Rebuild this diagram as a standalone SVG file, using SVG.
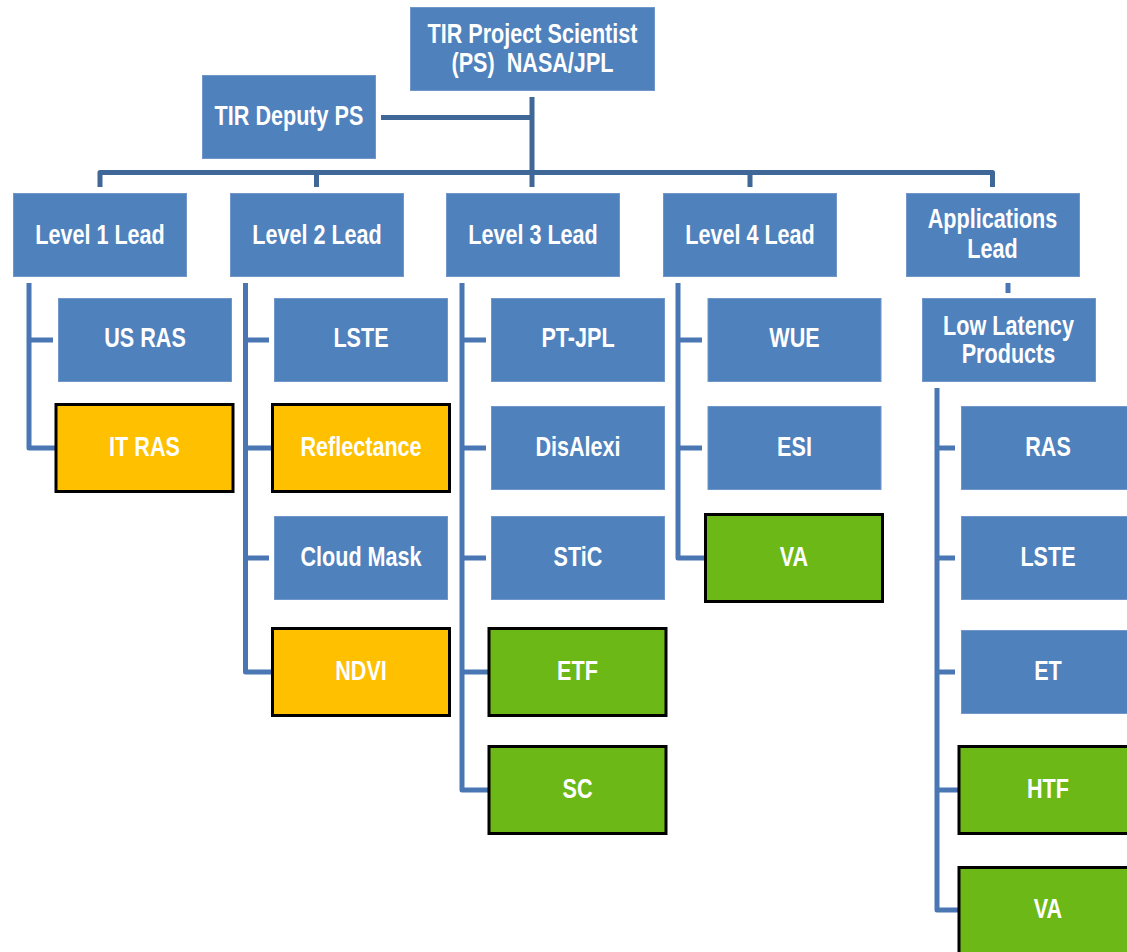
<svg xmlns="http://www.w3.org/2000/svg" width="1127" height="952" viewBox="0 0 1127 952">
<style>
.b{fill:#4F81BD;stroke:#7196C9;stroke-width:1}
.y{fill:#FFC000;stroke:#000;stroke-width:3}
.g{fill:#6CB816;stroke:#000;stroke-width:3}
text{font-family:"Liberation Sans",Arial,sans-serif;font-weight:bold;font-size:27px;fill:#fff;text-anchor:middle}
.top{fill:none;stroke:#3F6797;stroke-width:5;stroke-linejoin:round}
.sub{fill:none;stroke:#4A77B3;stroke-width:5;stroke-linejoin:round}
</style>
<rect width="1127" height="952" fill="#fff"/>
<g id="connectors">
<path class="top" d="M381,117.5 H532 M532,97 V187 M100,187 V172.5 H992.5 V187 M316.5,172.5 V187 M750,172.5 V187"/>
<path class="sub" d="M29,283 V448 H55 M29,340 H53"/>
<path class="sub" d="M245.5,283 V672 H271 M245.5,340 H269 M245.5,448 H271 M245.5,558 H269"/>
<path class="sub" d="M462,283 V790 H488 M462,340 H486 M462,448 H486 M462,558 H486 M462,672 H488"/>
<path class="sub" d="M678,283 V558 H705 M678,340 H702 M678,448 H702"/>
<path class="sub" d="M1008,283 V293 M937,388 V910 H958 M937,448 H955 M937,558 H955 M937,672 H955 M937,790 H958"/>
</g>
<g id="ps"><rect class="b" x="410.5" y="7.5" width="244" height="83"/><text transform="translate(532.5,43) scale(0.8,1)">TIR Project Scientist</text><text transform="translate(532.5,72) scale(0.8,1)" style="white-space:pre">(PS)  NASA/JPL</text></g>
<g id="deputy"><rect class="b" x="202.5" y="75.5" width="173" height="83"/><text transform="translate(289,125) scale(0.8,1)">TIR Deputy PS</text></g>
<g id="level1"><rect class="b" x="13.5" y="193.5" width="173" height="83"/><text transform="translate(100,244) scale(0.8,1)">Level 1 Lead</text></g>
<g id="level2"><rect class="b" x="230.5" y="193.5" width="173" height="83"/><text transform="translate(317,244) scale(0.8,1)">Level 2 Lead</text></g>
<g id="level3"><rect class="b" x="446.5" y="193.5" width="173" height="83"/><text transform="translate(533,244) scale(0.8,1)">Level 3 Lead</text></g>
<g id="level4"><rect class="b" x="663.5" y="193.5" width="173" height="83"/><text transform="translate(750,244) scale(0.8,1)">Level 4 Lead</text></g>
<g id="apps"><rect class="b" x="906.5" y="193.5" width="173" height="83"/><text transform="translate(992.5,228) scale(0.8,1)">Applications</text><text transform="translate(992.5,258) scale(0.8,1)">Lead</text></g>
<g id="usras"><rect class="b" x="58.5" y="298.5" width="173" height="83"/><text transform="translate(145,347) scale(0.8,1)">US RAS</text></g>
<g id="itras"><rect class="y" x="56" y="404.5" width="177" height="87"/><text transform="translate(144.5,456) scale(0.8,1)">IT RAS</text></g>
<g id="lste2"><rect class="b" x="274.5" y="298.5" width="173" height="83"/><text transform="translate(361,347) scale(0.8,1)">LSTE</text></g>
<g id="refl"><rect class="y" x="272.5" y="404.5" width="177" height="87"/><text transform="translate(361,456) scale(0.8,1)">Reflectance</text></g>
<g id="cloud"><rect class="b" x="274.5" y="516.5" width="173" height="83"/><text transform="translate(361,566) scale(0.8,1)">Cloud Mask</text></g>
<g id="ndvi"><rect class="y" x="272.5" y="628.5" width="177" height="87"/><text transform="translate(361,680) scale(0.8,1)">NDVI</text></g>
<g id="ptjpl"><rect class="b" x="491.5" y="298.5" width="173" height="83"/><text transform="translate(578,347) scale(0.8,1)">PT-JPL</text></g>
<g id="disalexi"><rect class="b" x="491.5" y="406.5" width="173" height="83"/><text transform="translate(578,456) scale(0.8,1)">DisAlexi</text></g>
<g id="stic"><rect class="b" x="491.5" y="516.5" width="173" height="83"/><text transform="translate(578,566) scale(0.8,1)">STiC</text></g>
<g id="etf"><rect class="g" x="489" y="628.5" width="177" height="87"/><text transform="translate(577.5,680) scale(0.8,1)">ETF</text></g>
<g id="sc"><rect class="g" x="489" y="746.5" width="177" height="87"/><text transform="translate(577.5,798) scale(0.8,1)">SC</text></g>
<g id="wue"><rect class="b" x="708" y="298.5" width="173" height="83"/><text transform="translate(794.5,347) scale(0.8,1)">WUE</text></g>
<g id="esi"><rect class="b" x="708" y="406.5" width="173" height="83"/><text transform="translate(794.5,456) scale(0.8,1)">ESI</text></g>
<g id="va4"><rect class="g" x="705.5" y="514.5" width="177" height="87"/><text transform="translate(794,566) scale(0.8,1)">VA</text></g>
<g id="llp"><rect class="b" x="922.5" y="298.5" width="173" height="83"/><text transform="translate(1008.5,335) scale(0.8,1)">Low Latency</text><text transform="translate(1008.5,363) scale(0.8,1)">Products</text></g>
<g id="ras"><rect class="b" x="961.5" y="406.5" width="173" height="83"/><text transform="translate(1048,456) scale(0.8,1)">RAS</text></g>
<g id="lste"><rect class="b" x="961.5" y="516.5" width="173" height="83"/><text transform="translate(1048,566) scale(0.8,1)">LSTE</text></g>
<g id="et"><rect class="b" x="961.5" y="630.5" width="173" height="83"/><text transform="translate(1048,680) scale(0.8,1)">ET</text></g>
<g id="htf"><rect class="g" x="959" y="746.5" width="177" height="87"/><text transform="translate(1048,798) scale(0.8,1)">HTF</text></g>
<g id="va"><rect class="g" x="959" y="867.5" width="177" height="87"/><text transform="translate(1048,918) scale(0.8,1)">VA</text></g>
</svg>
